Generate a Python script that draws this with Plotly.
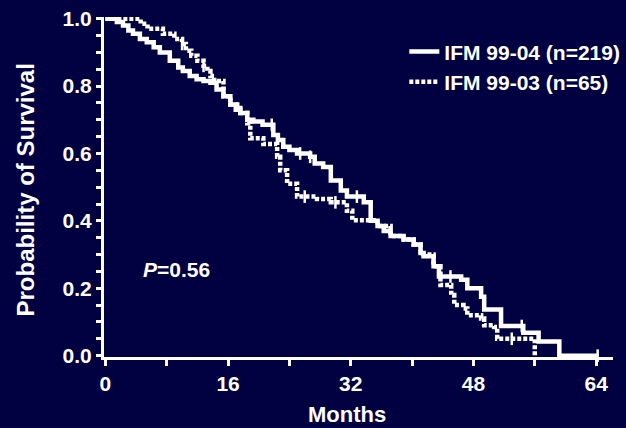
import numpy as np
import plotly.graph_objects as go

# ---- data ----
# IFM 99-04 (n=219) : step drop times (months) and survival after each drop
t_0499 = [0, 1.5, 2.3, 3.0, 3.6, 4.5, 5.4, 6.3, 7.1, 8.4, 9.5, 10.1, 11.0, 11.9, 12.8, 13.7,
          14.5, 15.4, 16.3, 17.0, 17.6, 18.5, 19.3, 20.5, 21.9, 22.5, 23.2, 24.0, 25.0, 26.7,
          27.3, 28.4, 29.4, 30.7, 31.5, 33.7, 34.6, 35.5, 36.3, 37.2, 38.9, 40.2, 41.1, 41.5,
          42.8, 43.5, 46.4, 47.2, 49.0, 49.4, 51.6, 54.5, 56.5, 59.2, 64.2]
s_0499 = [1.0, 0.99, 0.98, 0.965, 0.955, 0.94, 0.93, 0.915, 0.90, 0.875, 0.855, 0.845, 0.83,
          0.82, 0.815, 0.81, 0.79, 0.77, 0.745, 0.73, 0.72, 0.70, 0.695, 0.685, 0.655, 0.64,
          0.62, 0.61, 0.60, 0.59, 0.57, 0.56, 0.52, 0.49, 0.472, 0.455, 0.40, 0.385, 0.37,
          0.355, 0.345, 0.33, 0.305, 0.295, 0.265, 0.235, 0.225, 0.20, 0.175, 0.137, 0.088,
          0.068, 0.042, 0.0, 0.0]
c_0499 = [21.7, 25.4, 26.7, 32.8, 45.0, 54.3, 64.2]

# IFM 99-03 (n=65)
t_0399 = [0, 4.6, 5.5, 7.5, 9.0, 10.0, 10.5, 11.2, 12.0, 12.8, 13.3, 13.7, 14.2, 15.4, 16.3,
          17.6, 18.5, 18.9, 20.6, 22.4, 22.8, 23.7, 25.0, 27.6, 29.4, 31.5, 32.2, 35.5, 37.2,
          38.9, 40.2, 41.1, 42.8, 43.7, 45.1, 45.5, 46.7, 47.2, 49.0, 49.4, 50.7, 51.1, 56.0]
s_0399 = [1.0, 0.985, 0.97, 0.955, 0.94, 0.925, 0.905, 0.89, 0.875, 0.86, 0.845, 0.83, 0.815,
          0.77, 0.745, 0.72, 0.69, 0.645, 0.628, 0.59, 0.55, 0.51, 0.472, 0.465, 0.455, 0.43,
          0.402, 0.385, 0.355, 0.345, 0.33, 0.30, 0.265, 0.21, 0.18, 0.15, 0.14, 0.12, 0.11,
          0.09, 0.085, 0.05, 0.0]
c_0399 = [10.0, 12.8, 26.0, 30.0, 53.0]

series_names = ["IFM 99-04 (n=219)", "IFM 99-03 (n=65)"]
x_ticks = [0, 8, 16, 24, 32, 40, 48, 56, 64]
x_labels = ["0", "", "16", "", "32", "", "48", "", "64"]
y_ticks = [round(0.05 * i, 2) for i in range(21)]
y_labels = [f"{v:.1f}" if abs(v * 5 - round(v * 5)) < 1e-9 else "" for v in y_ticks]
p_text = "<i>P</i>=0.56"


def surv_at(times, surv, t):
    idx = np.searchsorted(np.array(times), t, side="right") - 1
    return np.array(surv)[idx]


BG = "#010040"
FONT = "Liberation Sans, Arial, sans-serif"

fig = go.Figure()
fig.add_trace(go.Scatter(x=t_0499, y=s_0499, mode="lines", line_shape="hv",
                         line=dict(color="white", width=4.5), name=series_names[0]))
fig.add_trace(go.Scatter(x=t_0399, y=s_0399, mode="lines", line_shape="hv",
                         line=dict(color="white", width=4.5, dash="4px,2px"),
                         name=series_names[1]))
fig.add_trace(go.Scatter(x=c_0499, y=surv_at(t_0499, s_0499, c_0499), mode="markers",
                         marker=dict(symbol="line-ns", size=9,
                                     line=dict(color="white", width=2.5)),
                         showlegend=False, cliponaxis=False))
fig.add_trace(go.Scatter(x=c_0399, y=surv_at(t_0399, s_0399, c_0399), mode="markers",
                         marker=dict(symbol="line-ns", size=9,
                                     line=dict(color="white", width=2.5)),
                         showlegend=False, cliponaxis=False))

axis_common = dict(showgrid=False, zeroline=False, showline=True, linecolor="white",
                   linewidth=3, ticks="outside", tickcolor="white", tickwidth=2.5,
                   tickfont=dict(family=FONT, size=21, color="white", weight="bold"))

fig.update_xaxes(range=[-0.18, 66.2], tickmode="array", tickvals=x_ticks,
                 ticktext=x_labels, ticklen=6, **axis_common)
fig.update_yaxes(range=[-0.004, 1.005], tickmode="array", tickvals=y_ticks,
                 ticktext=y_labels, ticklen=5, **axis_common)

fig.update_layout(
    width=626, height=428,
    margin=dict(l=104, r=13, t=17, b=71, autoexpand=False),
    paper_bgcolor=BG, plot_bgcolor=BG,
    font=dict(family=FONT, color="white", size=21, weight="bold"),
    showlegend=True,
    legend=dict(x=0.59, y=0.958, xanchor="left", yanchor="top", bgcolor="rgba(0,0,0,0)",
                font=dict(family=FONT, size=21, color="white", weight="bold"),
                itemwidth=30, tracegroupgap=0),
    annotations=[
        dict(text="Months", xref="paper", yref="paper", x=0.477, y=-0.168,
             xanchor="center", yanchor="middle", showarrow=False,
             font=dict(family=FONT, size=22, color="white", weight="bold")),
        dict(text="Probability of Survival", xref="paper", yref="paper", x=-0.155, y=0.49,
             xanchor="center", yanchor="middle", textangle=-90, showarrow=False,
             font=dict(family=FONT, size=24, color="white", weight="bold")),
        dict(text=p_text, xref="x", yref="y", x=9.3, y=0.255, xanchor="center",
             yanchor="middle", showarrow=False,
             font=dict(family=FONT, size=21, color="white", weight="bold")),
    ],
)

fig.write_html("out.html", config={"displayModeBar": False},
               post_script="document.body.style.margin='0';document.body.style.background='" + BG + "';")
